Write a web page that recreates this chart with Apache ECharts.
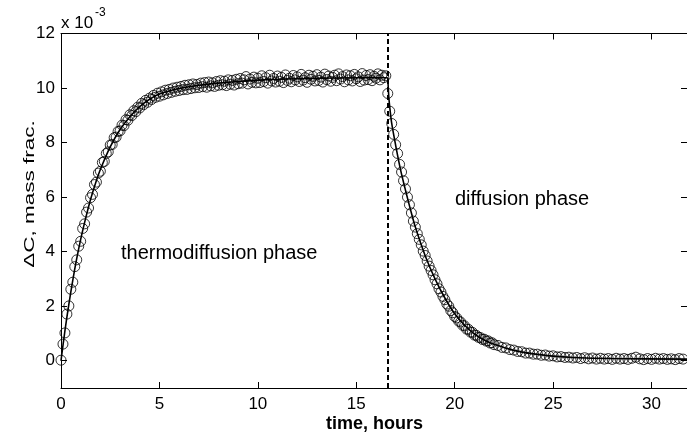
<!DOCTYPE html>
<html>
<head>
<meta charset="utf-8">
<script src="https://cdn.jsdelivr.net/npm/echarts@6/dist/echarts.min.js"></script>
<style>
html,body{margin:0;padding:0;background:#fff;}
#chart{width:687px;height:436px;}
</style>
</head>
<body>
<div id="chart"></div>
<script>
// ---- data (ΔC in units of 1e-3 mass fraction, time in hours) ----
var thermoTime = [
0.0,0.1,0.2,0.3,0.4,0.5,0.6,0.7,0.8,0.9,
1.0,1.1,1.2,1.3,1.4,1.5,1.6,1.7,1.8,1.9,
2.0,2.1,2.2,2.3,2.4,2.5,2.6,2.7,2.8,2.9,
3.0,3.1,3.2,3.3,3.4,3.5,3.6,3.7,3.8,3.9,
4.0,4.1,4.2,4.3,4.4,4.5,4.6,4.7,4.8,4.9,
5.0,5.1,5.2,5.3,5.4,5.5,5.6,5.7,5.8,5.9,
6.0,6.1,6.2,6.3,6.4,6.5,6.6,6.7,6.8,6.9,
7.0,7.1,7.2,7.3,7.4,7.5,7.6,7.7,7.8,7.9,
8.0,8.1,8.2,8.3,8.4,8.5,8.6,8.7,8.8,8.9,
9.0,9.1,9.2,9.3,9.4,9.5,9.6,9.7,9.8,9.9,
10.0,10.1,10.2,10.3,10.4,10.5,10.6,10.7,10.8,10.9,
11.0,11.1,11.2,11.3,11.4,11.5,11.6,11.7,11.8,11.9,
12.0,12.1,12.2,12.3,12.4,12.5,12.6,12.7,12.8,12.9,
13.0,13.1,13.2,13.3,13.4,13.5,13.6,13.7,13.8,13.9,
14.0,14.1,14.2,14.3,14.4,14.5,14.6,14.7,14.8,14.9,
15.0,15.1,15.2,15.3,15.4,15.5,15.6,15.7,15.8,15.9,
16.0,16.1,16.2,16.3,16.4,16.5];
var thermoConc = [
0.02,0.61,1.02,1.71,2.01,2.62,2.88,3.45,3.70,4.20,
4.38,4.85,5.02,5.45,5.60,5.98,6.10,6.46,6.55,6.88,
6.95,7.27,7.31,7.60,7.66,7.91,7.93,8.18,8.20,8.41,
8.43,8.64,8.62,8.84,8.82,9.02,8.99,9.17,9.13,9.30,
9.27,9.44,9.39,9.55,9.48,9.63,9.58,9.73,9.66,9.81,
9.70,9.86,9.75,9.92,9.80,9.95,9.84,10.00,9.88,10.03,
9.91,10.06,9.94,10.10,9.95,10.12,9.98,10.15,10.01,10.13,
10.02,10.18,10.05,10.20,10.03,10.22,10.08,10.19,10.06,10.24,
10.10,10.27,10.12,10.25,10.09,10.30,10.14,10.28,10.11,10.32,
10.16,10.35,10.18,10.30,10.42,10.15,10.33,10.21,10.40,10.19,
10.36,10.20,10.45,10.24,10.38,10.18,10.47,10.26,10.35,10.22,
10.44,10.25,10.39,10.20,10.48,10.28,10.36,10.23,10.46,10.30,
10.41,10.24,10.50,10.29,10.38,10.21,10.47,10.32,10.43,10.26,
10.49,10.28,10.40,10.22,10.51,10.31,10.44,10.25,10.39,10.47,
10.27,10.52,10.33,10.42,10.23,10.48,10.30,10.45,10.26,10.50,
10.34,10.41,10.24,10.53,10.29,10.46,10.31,10.49,10.27,10.43,
10.36,10.52,10.30,10.47,10.38,10.45];
var diffTime = [
16.6,16.7,16.8,16.9,17.0,17.1,17.2,17.3,17.4,17.5,
17.6,17.7,17.8,17.9,18.0,18.1,18.2,18.3,18.4,18.5,
18.6,18.7,18.8,18.9,19.0,19.1,19.2,19.3,19.4,19.5,
19.6,19.7,19.8,19.9,20.0,20.1,20.2,20.3,20.4,20.5,
20.6,20.7,20.8,20.9,21.0,21.1,21.2,21.3,21.4,21.5,
21.6,21.7,21.8,21.9,22.0,
22.2,22.4,22.6,22.8,23.0,23.2,23.4,23.6,23.8,24.0,
24.2,24.4,24.6,24.8,25.0,25.2,25.4,25.6,25.8,26.0,
26.2,26.4,26.6,26.8,27.0,27.2,27.4,27.6,27.8,28.0,
28.2,28.4,28.6,28.8,29.0,29.2,29.4,29.6,29.8,30.0,
30.2,30.4,30.6,30.8,31.0,31.2,31.4,31.6];
var diffConc = [
9.80,9.15,8.70,8.30,7.92,7.60,7.20,6.92,6.60,6.30,
6.00,5.72,5.42,5.12,4.90,4.66,4.45,4.25,4.02,3.86,
3.66,3.47,3.31,3.15,2.97,2.82,2.64,2.52,2.36,2.24,
2.08,2.00,1.84,1.76,1.62,1.57,1.45,1.42,1.30,1.28,
1.16,1.15,1.05,1.04,0.94,0.93,0.86,0.85,0.78,0.79,
0.72,0.73,0.65,0.66,0.59,
0.56,0.49,0.47,0.41,0.39,0.34,0.33,0.28,0.28,0.24,
0.24,0.20,0.21,0.17,0.18,0.14,0.15,0.12,0.13,0.10,
0.12,0.08,0.11,0.07,0.10,0.06,0.09,0.06,0.08,0.05,
0.09,0.06,0.08,0.05,0.09,0.13,0.07,0.04,0.08,0.05,
0.09,0.06,0.08,0.05,0.07,0.04,0.08,0.06];
var thermoFitTime = [0,0.2,0.4,0.6,0.8,1.0,1.25,1.5,1.75,2.0,2.5,3.0,3.5,4.0,4.5,5.0,6.0,7.0,8.0,9.0,10.0,12.0,14.0,16.6];
var thermoFitConc = [0,1.10,2.08,2.96,3.75,4.45,5.22,5.91,6.50,7.01,7.84,8.48,8.95,9.32,9.59,9.78,9.98,10.10,10.18,10.24,10.29,10.34,10.37,10.38];
var diffFitTime = [16.6,16.65,16.7,16.8,17.0,17.25,17.5,17.75,18.0,18.5,19.0,19.5,20.0,20.5,21.0,21.5,22.0,23.0,24.0,25.0,26.0,28.0,31.8];
var diffFitConc = [10.38,9.70,9.30,8.70,7.90,7.00,6.25,5.55,4.90,3.85,3.00,2.30,1.72,1.30,0.98,0.76,0.60,0.38,0.25,0.17,0.12,0.08,0.06];
var phaseBoundary = 16.6;
var xTicks = [0,5,10,15,20,25,30];
var yTicks = [0,2,4,6,8,10,12];

function pairs(t, v){ return t.map(function(x,i){ return [x, v[i]]; }); }

var chart = echarts.init(document.getElementById('chart'), null, {renderer:'canvas'});
var FONT = 'Liberation Sans, Arial, Helvetica, sans-serif';
var axisCommon = {
  type:'value', splitLine:{show:false},
  axisLine:{show:true, onZero:false, lineStyle:{color:'#000', width:1}}
};
var markerStyle = {color:'rgba(0,0,0,0)', borderColor:'#000', borderWidth:1};
var option = {
  animation:false,
  backgroundColor:'#fff',
  grid:{left:61, right:-1, top:33.5, bottom:48, containLabel:false},
  xAxis:[
    Object.assign({}, axisCommon, {
      min:0, max:31.8, position:'bottom',
      axisTick:{show:true, inside:true, length:6, customValues:xTicks, lineStyle:{color:'#000'}},
      axisLabel:{show:true, customValues:xTicks, margin:8, color:'#000', fontSize:17, fontFamily:FONT}
    }),
    Object.assign({}, axisCommon, {
      min:0, max:31.8, position:'top',
      axisTick:{show:true, inside:true, length:6, customValues:xTicks, lineStyle:{color:'#000'}},
      axisLabel:{show:false}
    })
  ],
  yAxis:[
    Object.assign({}, axisCommon, {
      min:-1, max:12, position:'left',
      axisTick:{show:true, inside:true, length:6, customValues:yTicks, lineStyle:{color:'#000'}},
      axisLabel:{show:true, customValues:yTicks, margin:6, color:'#000', fontSize:17, fontFamily:FONT}
    }),
    Object.assign({}, axisCommon, {
      min:-1, max:12, position:'right',
      axisTick:{show:true, inside:true, length:6, customValues:yTicks, lineStyle:{color:'#000'}},
      axisLabel:{show:false}
    })
  ],
  series:[
    {type:'scatter', name:'thermodiffusion', data:pairs(thermoTime, thermoConc),
     symbol:'circle', symbolSize:10, itemStyle:markerStyle},
    {type:'scatter', name:'diffusion', data:pairs(diffTime, diffConc),
     symbol:'circle', symbolSize:10, itemStyle:markerStyle},
    {type:'line', name:'fit1', data:pairs(thermoFitTime, thermoFitConc), showSymbol:false, smooth:0.3,
     lineStyle:{color:'#000', width:1.6}, z:5},
    {type:'line', name:'fit2', data:pairs(diffFitTime, diffFitConc), showSymbol:false, smooth:0.3,
     lineStyle:{color:'#000', width:1.6}, z:5,
     markLine:{silent:true, symbol:'none', label:{show:false},
       lineStyle:{color:'#000', width:2, type:[5,3]},
       data:[{xAxis:phaseBoundary}]}}
  ],
  graphic:[
    {type:'text', x:121, y:253, style:{text:'thermodiffusion phase', font:'20px '+FONT, fill:'#000', textAlign:'left', textVerticalAlign:'middle'}},
    {type:'text', x:455, y:199, style:{text:'diffusion phase', font:'20px '+FONT, fill:'#000', textAlign:'left', textVerticalAlign:'middle'}},
    {type:'text', x:374.5, y:424, style:{text:'time, hours', font:'bold 18px '+FONT, fill:'#000', textAlign:'center', textVerticalAlign:'middle'}},
    {type:'text', x:30, y:194, rotation:Math.PI/2, scaleX:1.5, style:{text:'\u0394C, mass frac.', font:'15px '+FONT, fill:'#000', textAlign:'center', textVerticalAlign:'middle'}},
    {type:'text', x:61, y:23, style:{text:'x 10', font:'17px '+FONT, fill:'#000', textAlign:'left', textVerticalAlign:'middle'}},
    {type:'text', x:95, y:13, style:{text:'-3', font:'12px '+FONT, fill:'#000', textAlign:'left', textVerticalAlign:'middle'}}
  ]
};
chart.setOption(option);
</script>
</body>
</html>
